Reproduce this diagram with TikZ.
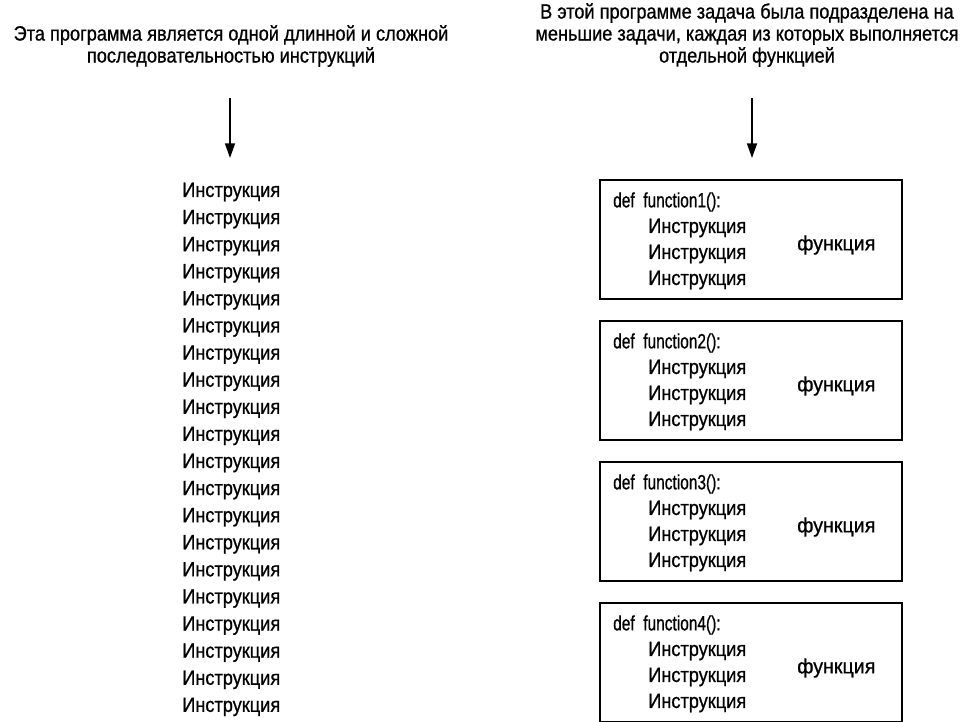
\documentclass[tikz,border=0pt]{standalone}
\usepackage{fontspec}
\setmainfont[FakeStretch=0.88, FakeBold=0.8]{Liberation Sans}
\usetikzlibrary{arrows.meta, positioning}

\tikzset{
    txt/.style={inner sep=0pt, font=\fontsize{15.5}{16.5}\selectfont},
    hdr/.style={txt, align=center},
    fbox/.style={draw, line width=1.3pt},
    flow/.style={-{Triangle[width=7.5pt, length=11pt]}, line width=1.3pt}
}

\begin{document}
\begin{tikzpicture}[x=0.75pt, y=-0.75pt]

    \useasboundingbox (0,0) rectangle (970,721);

    % ==========================================
    % 1. LEFT SIDE: one long program
    % ==========================================
    \node[hdr] (hdrL) at (231, 46) {Эта программа является одной длинной и сложной\\последовательностью инструкций};

    \coordinate (arrLtop) at (230, 98);
    \coordinate (arrLbot) at (230, 158);
    \draw[flow] (arrLtop) -- (arrLbot);

    % twenty instructions in a row
    \foreach \i in {1,...,20} {
        \node[txt, anchor=west] (instr\i) at (182, {192 + (\i-1)*27.1}) {Инструкция};
    }

    % ==========================================
    % 2. RIGHT SIDE: program split into functions
    % ==========================================
    \node[hdr] (hdrR) at (747, 35) {В этой программе задача была подразделена на\\меньшие задачи, каждая из которых выполняется\\отдельной функцией};

    \coordinate (arrRtop) at (752, 98);
    \coordinate (arrRbot) at (752, 158);
    \draw[flow] (arrRtop) -- (arrRbot);

    % four function boxes
    \foreach \k in {1,...,4} {
        \begin{scope}[yshift={-(\k-1)*141*0.75pt}]
            \draw[fbox] (600, 180) rectangle (902, 299);
            \node[txt, anchor=west, transform shape, xscale=0.85] (def\k) at (613, 202) {def\ \ function\k():};
            \node[txt, anchor=west] (fa\k) at (648, 228) {Инструкция};
            \node[txt, anchor=west] (fb\k) at (648, 254) {Инструкция};
            \node[txt, anchor=west] (fc\k) at (648, 280) {Инструкция};
            \node[txt, anchor=west, transform shape, xscale=1.08] (fn\k) at (797, 245) {функция};
        \end{scope}
    }

\end{tikzpicture}
\end{document}
